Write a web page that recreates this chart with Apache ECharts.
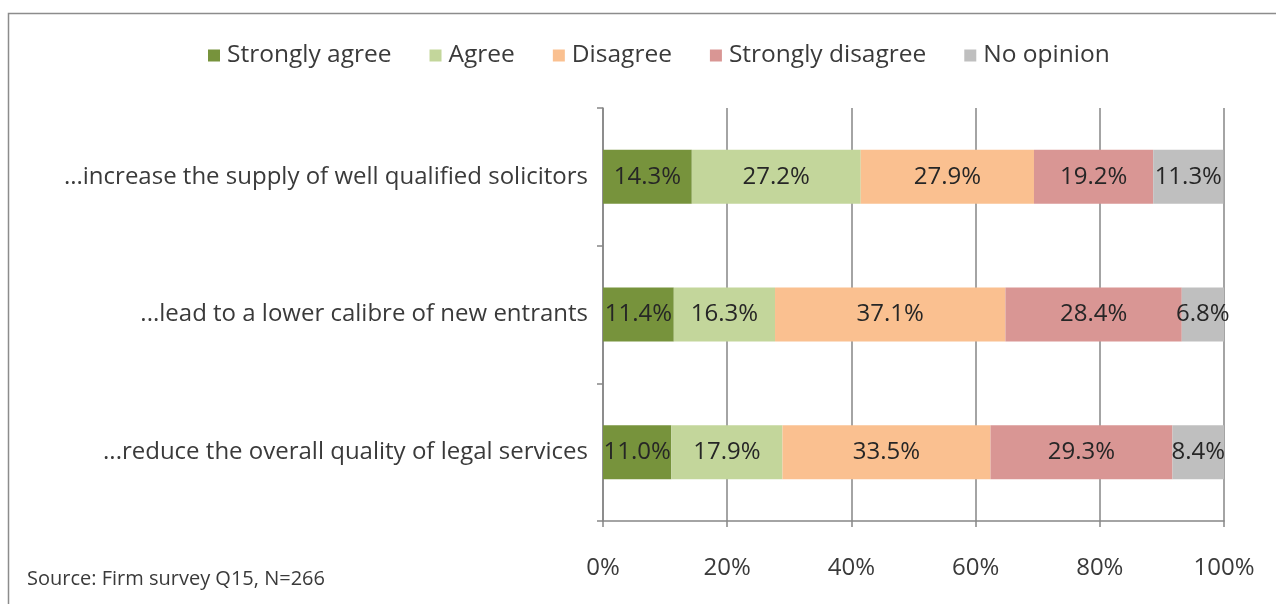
<!DOCTYPE html>
<html>
<head>
<meta charset="utf-8">
<script src="https://cdn.jsdelivr.net/npm/echarts@6/dist/echarts.min.js"></script>
<style>
  html, body { margin: 0; padding: 0; background: #fff; }
  #chart { width: 1276px; height: 604px; }
</style>
</head>
<body>
<div id="chart"></div>
<script>
// Survey statements (top to bottom)
const categories = [
  '...increase the supply of well qualified solicitors',
  '...lead to a lower calibre of new entrants',
  '...reduce the overall quality of legal services'
];
// Response shares, percent of firms, per statement
const stronglyAgree    = [14.3, 11.4, 11.0];
const agree            = [27.2, 16.3, 17.9];
const disagree         = [27.9, 37.1, 33.5];
const stronglyDisagree = [19.2, 28.4, 29.3];
const noOpinion        = [11.3, 6.8, 8.4];
const xTicks = [0, 20, 40, 60, 80, 100];

const FONT = "'Open Sans', sans-serif";
const TEXT = '#3a3a3a';
const AXIS = '#868686';

const seriesDefs = [
  { name: 'Strongly agree', data: stronglyAgree, color: '#77933C' },
  { name: 'Agree', data: agree, color: '#C3D69B' },
  { name: 'Disagree', data: disagree, color: '#FAC090' },
  { name: 'Strongly disagree', data: stronglyDisagree, color: '#D99694' },
  { name: 'No opinion', data: noOpinion, color: '#BFBFBF' }
];

const chart = echarts.init(document.getElementById('chart'), null, { renderer: 'canvas' });

chart.setOption({
  animation: false,
  backgroundColor: '#fff',
  textStyle: { fontFamily: FONT },
  graphic: [
    {
      type: 'rect',
      shape: { x: 8.5, y: 13.5, width: 1300, height: 700 },
      style: { fill: 'none', stroke: '#8c8c8c', lineWidth: 1.5 },
      silent: true
    },
    {
      type: 'text',
      left: 27,
      top: 569,
      style: { text: 'Source: Firm survey Q15, N=266', fontSize: 20, fill: TEXT, fontFamily: FONT }
    }
  ],
  legend: {
    left: 203,
    top: 38,
    itemWidth: 12,
    itemHeight: 12,
    itemGap: 38,
    icon: 'rect',
    textStyle: { fontSize: 24.5, color: TEXT, padding: [0, 0, 0, 2] },
    data: seriesDefs.map(s => s.name)
  },
  grid: { left: 603, right: 52, top: 108, bottom: 83, containLabel: false },
  xAxis: {
    type: 'value',
    min: xTicks[0],
    max: xTicks[xTicks.length - 1],
    interval: 20,
    axisLine: { show: true, lineStyle: { color: AXIS, width: 1.5 } },
    axisTick: { show: true, length: 6, lineStyle: { color: AXIS, width: 1.5 } },
    splitLine: { show: true, lineStyle: { color: AXIS, width: 1.5 } },
    axisLabel: { formatter: '{value}%', fontSize: 24, color: TEXT, margin: 35 }
  },
  yAxis: {
    type: 'category',
    inverse: true,
    data: categories,
    axisLine: { show: true, lineStyle: { color: AXIS, width: 1.5 } },
    axisTick: { show: true, length: 6, lineStyle: { color: AXIS, width: 1.5 } },
    axisLabel: { fontSize: 24, color: TEXT, margin: 15 }
  },
  series: seriesDefs.map(s => ({
    name: s.name,
    type: 'bar',
    stack: 'total',
    barWidth: 54,
    data: s.data,
    itemStyle: { color: s.color },
    label: {
      show: true,
      position: 'inside',
      fontSize: 24,
      color: '#262626',
      fontFamily: FONT,
      formatter: p => p.value.toFixed(1) + '%'
    }
  }))
});
</script>
</body>
</html>
